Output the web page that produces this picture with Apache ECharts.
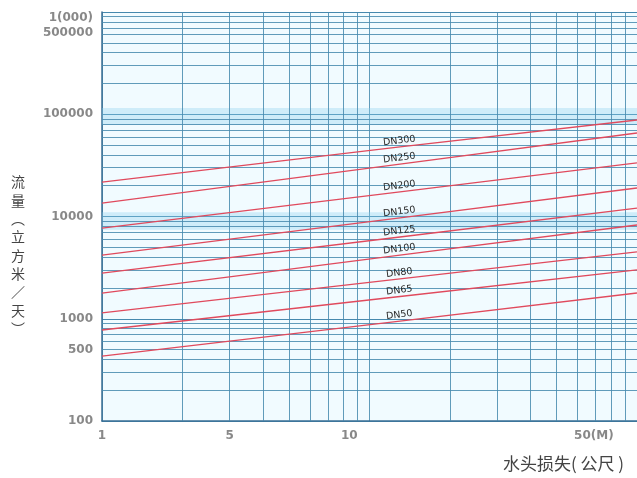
<!DOCTYPE html>
<html><head><meta charset="utf-8">
<script src="https://cdn.jsdelivr.net/npm/echarts@6/dist/echarts.min.js"></script>
<style>html,body{margin:0;padding:0;background:#fff}#c{width:637px;height:478px}</style>
</head><body><div id="c"></div>
<script>
// ---- data ----
const pipeNames = ['DN300', 'DN250', 'DN200', 'DN150', 'DN125', 'DN100', 'DN80', 'DN65', 'DN50'];
const headLoss = [1, 13, 100];               // 水头损失 (m)
const flowDN300 = [21700, 47900, 87900];     // 流量 (m3/day)
const flowDN250 = [13500, 32600, 65600];
const flowDN200 = [7700, 17400, 33400];
const flowDN150 = [4200, 9700, 19000];
const flowDN125 = [2800, 6300, 12100];
const flowDN100 = [1780, 4200, 8260];
const flowDN80  = [1140, 2450, 4500];
const flowDN65  = [776, 1650, 3000];
const flowDN50  = [432, 950, 1785];
const flows = [flowDN300, flowDN250, flowDN200, flowDN150, flowDN125, flowDN100, flowDN80, flowDN65, flowDN50];

const xTickValues = [1, 3, 8.4, 69];
const xTickLabels = ['1', '5', '10', '50(M)'];
const yTickValues = [100, 500, 1000, 10000, 100000, 620000, 870000];
const yTickLabels = ['100', '500', '1000', '10000', '100000', '500000', '1(000)'];
const xGridValues = [2, 3, 4, 5, 6, 7, 8, 9, 20, 30, 40, 50, 60, 70, 80, 90];
const yGridValues = [200, 300, 400, 500, 600, 700, 800, 900,
  2000, 3000, 4000, 5000, 6000, 7000, 8000, 9000,
  20000, 30000, 40000, 50000, 60000, 70000, 80000, 90000,
  200000, 300000, 400000, 500000, 600000, 700000, 800000, 900000];
const bandRanges = [[78500, 115000], [7400, 11000]];

const xName = '水头损失( 公尺 )';
const yName = '流\n量\n︵\n立\n方\n米\n／\n天\n︶';

// ---- chart ----
const chart = echarts.init(document.getElementById('c'), null, { renderer: 'canvas' });
const gridColor = '#4689ae';
const redColor = '#e04a5d';
const tickFont = { color: '#6a6a6a', fontSize: 12, fontWeight: 'bold', fontFamily: 'DejaVu Sans' };

const pipeSeries = pipeNames.map((name, i) => ({
  name: name,
  type: 'line',
  z: 5,
  symbol: 'circle',
  symbolSize: 0.1,
  showSymbol: true,
  silent: true,
  itemStyle: { color: redColor },
  lineStyle: { color: redColor, width: 1.3 },
  data: headLoss.map((x, j) => ({
    value: [x, flows[i][j]],
    label: j === 1 ? {
      show: true, formatter: name, position: 'top', distance: 1, rotate: 7,
      color: '#2a2a2a', fontSize: 9.5, fontFamily: 'DejaVu Sans'
    } : { show: false }
  }))
}));

const gridSeries = {
  name: 'grid', type: 'line', z: 1, silent: true,
  symbol: 'none', lineStyle: { opacity: 0 },
  data: [[1, 100]],
  markArea: {
    silent: true,
    itemStyle: { color: 'rgba(140,210,238,0.35)' },
    data: bandRanges.map(r => [{ yAxis: r[0] }, { yAxis: r[1] }])
  },
  markLine: {
    silent: true, symbol: 'none', animation: false,
    label: { show: false },
    lineStyle: { color: gridColor, width: 1, type: 'solid', opacity: 0.85 },
    data: xGridValues.map(v => ({ xAxis: v })).concat(yGridValues.map(v => ({ yAxis: v })))
  }
};

const xLabelSeries = {
  name: 'xticks', type: 'scatter', z: 6, silent: true, clip: false,
  symbolSize: 0,
  data: xTickValues.map(v => [v, 100]),
  label: {
    show: true, position: 'bottom', distance: 9,
    formatter: p => xTickLabels[p.dataIndex], ...tickFont
  }
};
const yLabelSeries = {
  name: 'yticks', type: 'scatter', z: 6, silent: true, clip: false,
  symbolSize: 0,
  data: yTickValues.map(v => [1, v]),
  label: {
    show: true, position: 'left', distance: 9,
    formatter: p => yTickLabels[p.dataIndex], ...tickFont
  }
};

chart.setOption({
  animation: false,
  backgroundColor: '#ffffff',
  title: [
    { text: xName, right: 8, bottom: 1,
      textStyle: { fontSize: 17, fontWeight: 'normal', color: '#444', fontFamily: 'Noto Sans CJK SC' } },
    { text: yName, left: 6, top: 168,
      textStyle: { fontSize: 14, lineHeight: 18.3, fontWeight: 'normal', color: '#444', fontFamily: 'Noto Sans CJK SC' } }
  ],
  grid: { left: 102, right: 0, top: 12, bottom: 57, show: true, backgroundColor: '#f1fbff', borderWidth: 0 },
  xAxis: {
    type: 'log', logBase: 10, min: 1, max: 100,
    axisLine: { show: true, lineStyle: { color: '#3a6f95', width: 1.5 } },
    axisTick: { show: false },
    axisLabel: { show: false },
    splitLine: { show: true, lineStyle: { color: gridColor, width: 1, opacity: 0.85 } }
  },
  yAxis: {
    type: 'log', logBase: 10, min: 100, max: 1000000,
    axisLine: { show: true, lineStyle: { color: '#3a6f95', width: 1.5 } },
    axisTick: { show: false },
    axisLabel: { show: false },
    splitLine: { show: true, lineStyle: { color: gridColor, width: 1.2 } }
  },
  series: [gridSeries].concat(pipeSeries, [xLabelSeries, yLabelSeries])
});
</script>
</body></html>
